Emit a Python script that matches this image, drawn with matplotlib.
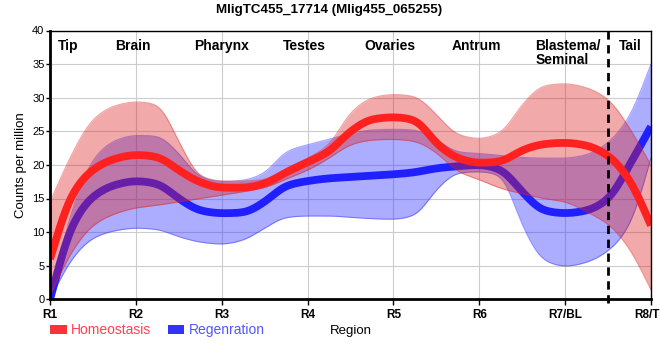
import numpy as np
import matplotlib
matplotlib.use("Agg")
import matplotlib.pyplot as plt
from matplotlib.patches import Patch

# ---------------- data ----------------
categories = ["R1", "R2", "R3", "R4", "R5", "R6", "R7/BL", "R8/TL"]
regions = ["Tip", "Brain", "Pharynx", "Testes", "Ovaries", "Antrum", "Blastema/\nSeminal", "Tail"]
title = "MligTC455_17714 (Mlig455_065255)"
series_names = ["Homeostasis", "Regenration"]

# values sampled every quarter of a region step (R1 .. R8)
homeo_mean = [6.0, 15.5, 19.3, 20.9, 21.5, 21.2, 19.2, 17.4, 16.6, 16.6, 17.2, 18.9, 20.4, 22.0,
              25.0, 26.8, 27.1, 26.7, 23.2, 21.0, 20.3, 20.5, 22.2, 23.1, 23.3, 22.9, 21.4, 17.8, 11.0]
homeo_hi = [14.5, 21.5, 26.8, 28.8, 29.4, 29.0, 23.5, 18.3, 17.6, 17.6, 17.8, 19.5, 21.0, 23.0,
            27.8, 30.0, 30.5, 30.2, 27.5, 24.5, 23.9, 24.8, 29.0, 31.8, 32.1, 31.5, 29.8, 25.5, 20.0]
homeo_lo = [0.5, 7.0, 11.0, 12.7, 13.6, 14.0, 14.5, 15.0, 15.5, 16.0, 16.6, 17.9, 19.2, 21.0,
            23.0, 23.7, 23.8, 23.5, 21.8, 19.0, 17.8, 16.5, 15.7, 15.0, 14.5, 13.0, 11.2, 7.5, 1.4]
regen_mean = [0.0, 10.8, 15.3, 17.0, 17.6, 17.2, 15.0, 13.2, 12.8, 12.9, 14.5, 16.9, 17.6, 18.0,
              18.2, 18.4, 18.6, 18.9, 19.5, 19.8, 20.0, 19.3, 16.0, 13.2, 12.8, 13.2, 14.9, 20.0, 25.7]
regen_hi = [0.5, 13.0, 20.8, 23.6, 24.4, 24.3, 21.7, 18.2, 17.5, 17.7, 18.8, 22.0, 23.0, 23.8,
            24.7, 25.2, 25.3, 25.2, 23.8, 21.9, 21.7, 21.4, 21.1, 21.0, 21.0, 21.5, 23.3, 27.2, 35.0]
regen_lo = [0.0, 5.9, 9.1, 10.2, 10.6, 10.4, 9.3, 8.5, 8.2, 8.8, 10.6, 12.2, 12.4, 12.4,
            12.2, 12.0, 11.9, 12.5, 16.3, 18.8, 19.0, 18.4, 11.0, 5.8, 4.9, 5.5, 7.2, 11.0, 21.0]

samples_per_step = 4


def pchip(x, y, xn):
    x = np.asarray(x, float)
    y = np.asarray(y, float)
    h = np.diff(x)
    d = np.diff(y) / h
    m = np.zeros_like(y)
    for k in range(1, len(y) - 1):
        if d[k - 1] * d[k] > 0:
            w1 = 2 * h[k] + h[k - 1]
            w2 = h[k] + 2 * h[k - 1]
            m[k] = (w1 + w2) / (w1 / d[k - 1] + w2 / d[k])
    m[0] = d[0]
    m[-1] = d[-1]
    idx = np.clip(np.searchsorted(x, xn) - 1, 0, len(x) - 2)
    t = (xn - x[idx]) / h[idx]
    h00 = 2 * t**3 - 3 * t**2 + 1
    h10 = t**3 - 2 * t**2 + t
    h01 = -2 * t**3 + 3 * t**2
    h11 = t**3 - t**2
    return h00 * y[idx] + h10 * h[idx] * m[idx] + h01 * y[idx + 1] + h11 * h[idx] * m[idx + 1]


def smooth_curve(x, y, xn, sigma=0.07):
    """Monotone interpolation followed by a light gaussian smoothing (odd-reflected edges)."""
    yn = pchip(x, y, xn)
    dx = xn[1] - xn[0]
    r = int(np.ceil(3 * sigma / dx))
    k = np.exp(-0.5 * (np.arange(-r, r + 1) * dx / sigma) ** 2)
    k /= k.sum()
    left = 2 * yn[0] - yn[r:0:-1]
    right = 2 * yn[-1] - yn[-2:-r - 2:-1]
    padded = np.concatenate([left, yn, right])
    return np.convolve(padded, k, mode='valid')


xs = np.arange(len(homeo_mean)) / samples_per_step
xf = np.linspace(xs[0], xs[-1], 1400)

plt.rcParams['font.family'] = ['Liberation Sans', 'DejaVu Sans']

fig = plt.figure(figsize=(6.6, 3.6), dpi=100)
ax = fig.add_axes([50 / 660, (360 - 299.3) / 360, 601 / 660, (299.3 - 30.5) / 360])

red_fill = (0.86, 0.12, 0.12)
blue_fill = (0.2, 0.2, 1.0)

# Regeneration (drawn first, beneath)
r_lo, r_hi, r_m = (smooth_curve(xs, v, xf) for v in (regen_lo, regen_hi, regen_mean))
h_lo, h_hi, h_m = (smooth_curve(xs, v, xf) for v in (homeo_lo, homeo_hi, homeo_mean))

ax.fill_between(xf, r_lo, r_hi, color=blue_fill, alpha=0.4, lw=0, zorder=2)
ax.plot(xf, r_hi, color=blue_fill, alpha=0.45, lw=0.8, zorder=2)
ax.plot(xf, r_lo, color=blue_fill, alpha=0.45, lw=0.8, zorder=2)
ax.plot(xf, r_m, color="#2020ff", lw=5.6, solid_capstyle='butt', zorder=3)

# Homeostasis
ax.fill_between(xf, h_lo, h_hi, color=red_fill, alpha=0.38, lw=0, zorder=4)
ax.plot(xf, h_hi, color=red_fill, alpha=0.4, lw=0.8, zorder=4)
ax.plot(xf, h_lo, color=red_fill, alpha=0.4, lw=0.8, zorder=4)
ax.plot(xf, h_m, color="#ff2020", lw=5.6, solid_capstyle='butt', zorder=5)

ax.set_xlim(0, len(categories) - 1)
ax.set_ylim(0, 40)
ax.set_xticks(np.arange(len(categories)))
ax.set_xticklabels(categories, fontsize=8.5, fontweight='bold')
ax.set_yticks(np.arange(0, 41, 5))
ax.tick_params(axis='y', labelsize=8, length=3, width=1, pad=1)
ax.tick_params(axis='x', length=4, width=1, pad=3)
ax.grid(True, color='#cccccc', lw=0.8, zorder=0)
ax.set_axisbelow(True)

for s in ['left', 'bottom']:
    ax.spines[s].set_linewidth(2)
for s in ['top', 'right']:
    ax.spines[s].set_linewidth(1)
for s in ax.spines.values():
    s.set_zorder(10)

# dashed separator between R7/BL and R8/TL
ax.axvline(len(categories) - 1.5, ymin=-0.015, ymax=1, color='black', lw=2,
           ls=(0, (3, 2)), clip_on=False, zorder=9)

# region names
region_x = [0.21, 0.97, 2.0, 2.96, 3.96, 4.97, 5.65, 6.76]
for i, (name, rx) in enumerate(zip(regions, region_x)):
    ha = 'left' if '\n' in name else 'center'
    ax.text(rx, 0.97, name, transform=ax.get_xaxis_transform(), ha=ha, va='top',
            fontsize=10, fontweight='bold', linespacing=1.0, zorder=11)

ax.set_ylabel("Counts per million", fontsize=9.5, labelpad=4)
fig.text(351 / 660, 1 - 331 / 360, "Region", ha='center', va='center', fontsize=9.5)
fig.text(329.5 / 660, 1 - 10 / 360, title, ha='center', va='center', fontsize=9.6, fontweight='bold')

handles = [Patch(facecolor='#ff3333', edgecolor='none'), Patch(facecolor='#3333ff', edgecolor='none')]
leg = fig.legend(handles, series_names, loc='center left', bbox_to_anchor=(50 / 660, 1 - 330 / 360),
                 ncol=2, frameon=False, fontsize=10, handlelength=1.2, handleheight=0.6,
                 handletextpad=0.3, columnspacing=1.2, borderpad=0, borderaxespad=0)
for t, c in zip(leg.get_texts(), ['#ff4050', '#5555ff']):
    t.set_color(c)

fig.savefig("out.png", dpi=100)
